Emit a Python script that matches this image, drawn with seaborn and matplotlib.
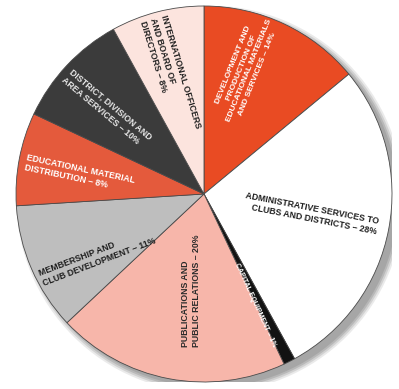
import numpy as np
import matplotlib
matplotlib.use("Agg")
import matplotlib.pyplot as plt
import seaborn as sns
from matplotlib.patches import Circle

# Datos del gráfico (orden horario desde las 12 en punto)
categorias = [
    "DEVELOPMENT AND\nPRODUCTION OF\nEDUCATIONAL MATERIALS\nAND SERVICES \u2013 14%",
    "ADMINISTRATIVE SERVICES TO\nCLUBS AND DISTRICTS \u2013 28%",
    "CAPITAL EQUIPMENT \u2013 1%",
    "PUBLICATIONS AND\nPUBLIC RELATIONS \u2013 20%",
    "MEMBERSHIP AND\nCLUB DEVELOPMENT \u2013 11%",
    "EDUCATIONAL MATERIAL\nDISTRIBUTION \u2013 8%",
    "DISTRICT, DIVISION AND\nAREA SERVICES \u2013 10%",
    "INTERNATIONAL OFFICERS\nAND BOARD OF\nDIRECTORS \u2013 8%",
]
porcentajes = [14, 28, 1, 20, 11, 8, 10, 8]

colores = ["#E94B23", "#FFFFFF", "#121212", "#F7B6AA",
           "#BEBEBE", "#E45A3C", "#3B3B3B", "#FCE4DE"]
colores_texto = ["#FFFFFF", "#1E1E1E", "#FFFFFF", "#2A2A2A",
                 "#1E1E1E", "#FFFFFF", "#E8E8E8", "#1E1E1E"]

# posición de cada etiqueta: (radio relativo, ángulo en grados), rotación y alineación
pos_etiquetas = [(0.70, 71.6), (0.58, -10.5), (0.65, -65.5), (0.52, -97.6),
                 (0.66, 210.6), (0.67, 170.9), (0.69, 138.7), (0.66, 106.0)]
rotaciones = [68, -11, -65.5, 90, 21, -12, -40, -73]
alineaciones = ["center", "right", "center", "left", "left", "left", "left", "left"]
tamanos = [6.0, 6.3, 5.0, 6.3, 6.3, 6.3, 6.3, 6.3]

sns.set_theme(style="white")
plt.rcParams["font.family"] = ["Liberation Sans Narrow", "Liberation Sans", "DejaVu Sans"]

W, H = 399, 389
fig = plt.figure(figsize=(W / 100, H / 100), dpi=100)
fig.patch.set_facecolor("white")

cx, cy, R = 204, 194, 188
ax = fig.add_axes([(cx - R) / W, (H - cy - R) / H, 2 * R / W, 2 * R / H])

# sombra del disco (abajo a la derecha)
for k, a in enumerate([0.2, 0.3, 0.45, 0.6]):
    ax.add_patch(Circle((0.032, -0.028), 1.0 + 0.01 * (3 - k),
                        color="#9A9A9A", alpha=a, lw=0, zorder=0))

wedges, _ = ax.pie(porcentajes, colors=colores, startangle=90, counterclock=False,
                   wedgeprops=dict(edgecolor="#4A4A4A", linewidth=0.6))
for w in wedges:
    w.set_zorder(2)

for txt, (r, ang), rot, al, fs, c in zip(categorias, pos_etiquetas, rotaciones,
                                          alineaciones, tamanos, colores_texto):
    x = r * np.cos(np.radians(ang))
    y = r * np.sin(np.radians(ang))
    ax.text(x, y, txt, rotation=rot, rotation_mode="anchor", ha="center", va="center",
            multialignment=al, fontsize=fs, fontweight="bold", color=c,
            linespacing=1.3, zorder=5)

ax.set_xlim(-1, 1)
ax.set_ylim(-1, 1)
ax.set_aspect("equal")
ax.axis("off")

fig.savefig("out.png", dpi=100, facecolor="white")
